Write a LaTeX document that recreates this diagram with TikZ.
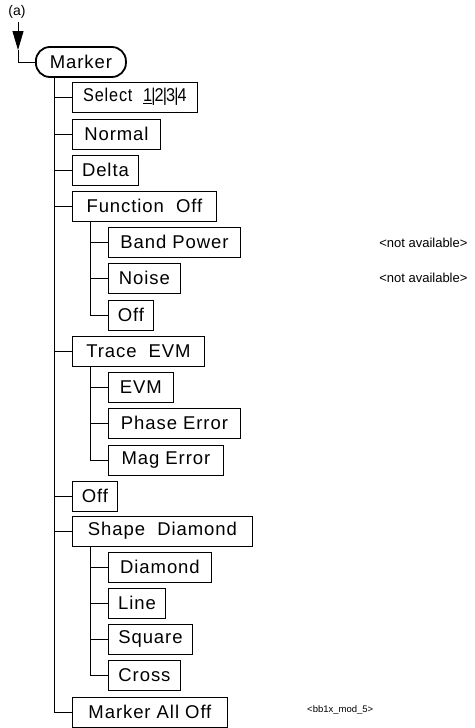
\documentclass[tikz,border=0pt]{standalone}
\usepackage{fontspec}
\usepackage{graphicx}
\setmainfont{Liberation Sans}
\newfontfamily\menufont[LetterSpace=5, Ligatures=NoCommon]{Liberation Sans}
\usetikzlibrary{positioning, arrows.meta}

\begin{document}
\begin{tikzpicture}[
    x=1pt, y=-1pt,
    key/.style={draw, line width=0.9pt, anchor=west, rectangle,
                font=\menufont\fontsize{18.5}{20}\selectfont,
                minimum width=#1, minimum height=30pt, inner sep=0pt},
    rootkey/.style={key=#1, line width=1.8pt, rounded corners=14pt},
    tree/.style={line width=0.9pt},
    note/.style={font=\fontsize{13}{14}\selectfont, anchor=east},
]
\useasboundingbox (0,0) rectangle (474,728);

% entry point and root key
\node[font=\fontsize{14}{15}\selectfont, inner sep=0pt] (entry) at (17,12) {(a)};
\coordinate (tip) at (18,50);
\node[rootkey=90pt] (marker) at (35,62) {Marker};
\draw[tree, -{Triangle[length=19pt, width=11pt]}] (18,22) -- (tip);
\draw[tree] (tip) |- (marker.west);

\coordinate (trunk) at (54,0);
\coordinate (sub)   at (90,0);

% first level
\node[key=125pt] (select) at (72,97)  {\scalebox{0.88}[1]{Select\hspace{12pt}\underline{1}\kern-1pt|\kern-1pt2\kern-1pt|\kern-1pt3\kern-1pt|\kern-1pt4}};
\node[key=88pt]  (normal) at (72,134) {Normal};
\node[key=66pt]  (delta)  at (72,170) {Delta};
\node[key=144pt] (func)   at (72,206) {Function\ \ Off};
\node[key=132pt] (trace)  at (72,351) {Trace\ \ EVM};
\node[key=45pt]  (off)    at (72,496) {Off};
\node[key=180pt] (shape)  at (72,531) {Shape\ \ Diamond};
\node[key=155pt] (alloff) at (72,712) {Marker All Off};

% Function submenu
\node[key=132pt] (band)   at (108,242) {Band Power};
\node[key=72pt]  (noise)  at (108,278) {Noise};
\node[key=45pt]  (foff)   at (108,315) {Off};
\node[note] (bandna)  at (471,243) {<not available>};
\node[note] (noisena) at (471,278) {<not available>};

% Trace submenu
\node[key=65pt]  (evm)   at (108,387) {EVM};
\node[key=132pt] (phase) at (108,423) {Phase Error};
\node[key=115pt] (mag)   at (108,460) {Mag Error};

% Shape submenu
\node[key=103pt] (diamond) at (108,567) {Diamond};
\node[key=57pt]  (line)    at (108,603) {Line};
\node[key=84pt]  (square)  at (108,639) {Square};
\node[key=72pt]  (cross)   at (108,675) {Cross};

\node[font=\fontsize{9.5}{10}\selectfont, anchor=west, inner sep=0pt] (fig) at (307,710) {<bb1x\_mod\_5>};

% tree lines
\draw[tree] (trunk |- marker.south) |- (alloff.west);
\draw[tree] (trunk |- select.west) -- (select.west);
\draw[tree] (trunk |- normal.west) -- (normal.west);
\draw[tree] (trunk |- delta.west) -- (delta.west);
\draw[tree] (trunk |- func.west) -- (func.west);
\draw[tree] (trunk |- trace.west) -- (trace.west);
\draw[tree] (trunk |- off.west) -- (off.west);
\draw[tree] (trunk |- shape.west) -- (shape.west);

\draw[tree] (sub |- func.south) |- (foff.west);
\draw[tree] (sub |- band.west) -- (band.west);
\draw[tree] (sub |- noise.west) -- (noise.west);

\draw[tree] (sub |- trace.south) |- (mag.west);
\draw[tree] (sub |- evm.west) -- (evm.west);
\draw[tree] (sub |- phase.west) -- (phase.west);

\draw[tree] (sub |- shape.south) |- (cross.west);
\draw[tree] (sub |- diamond.west) -- (diamond.west);
\draw[tree] (sub |- line.west) -- (line.west);
\draw[tree] (sub |- square.west) -- (square.west);
\end{tikzpicture}
\end{document}
